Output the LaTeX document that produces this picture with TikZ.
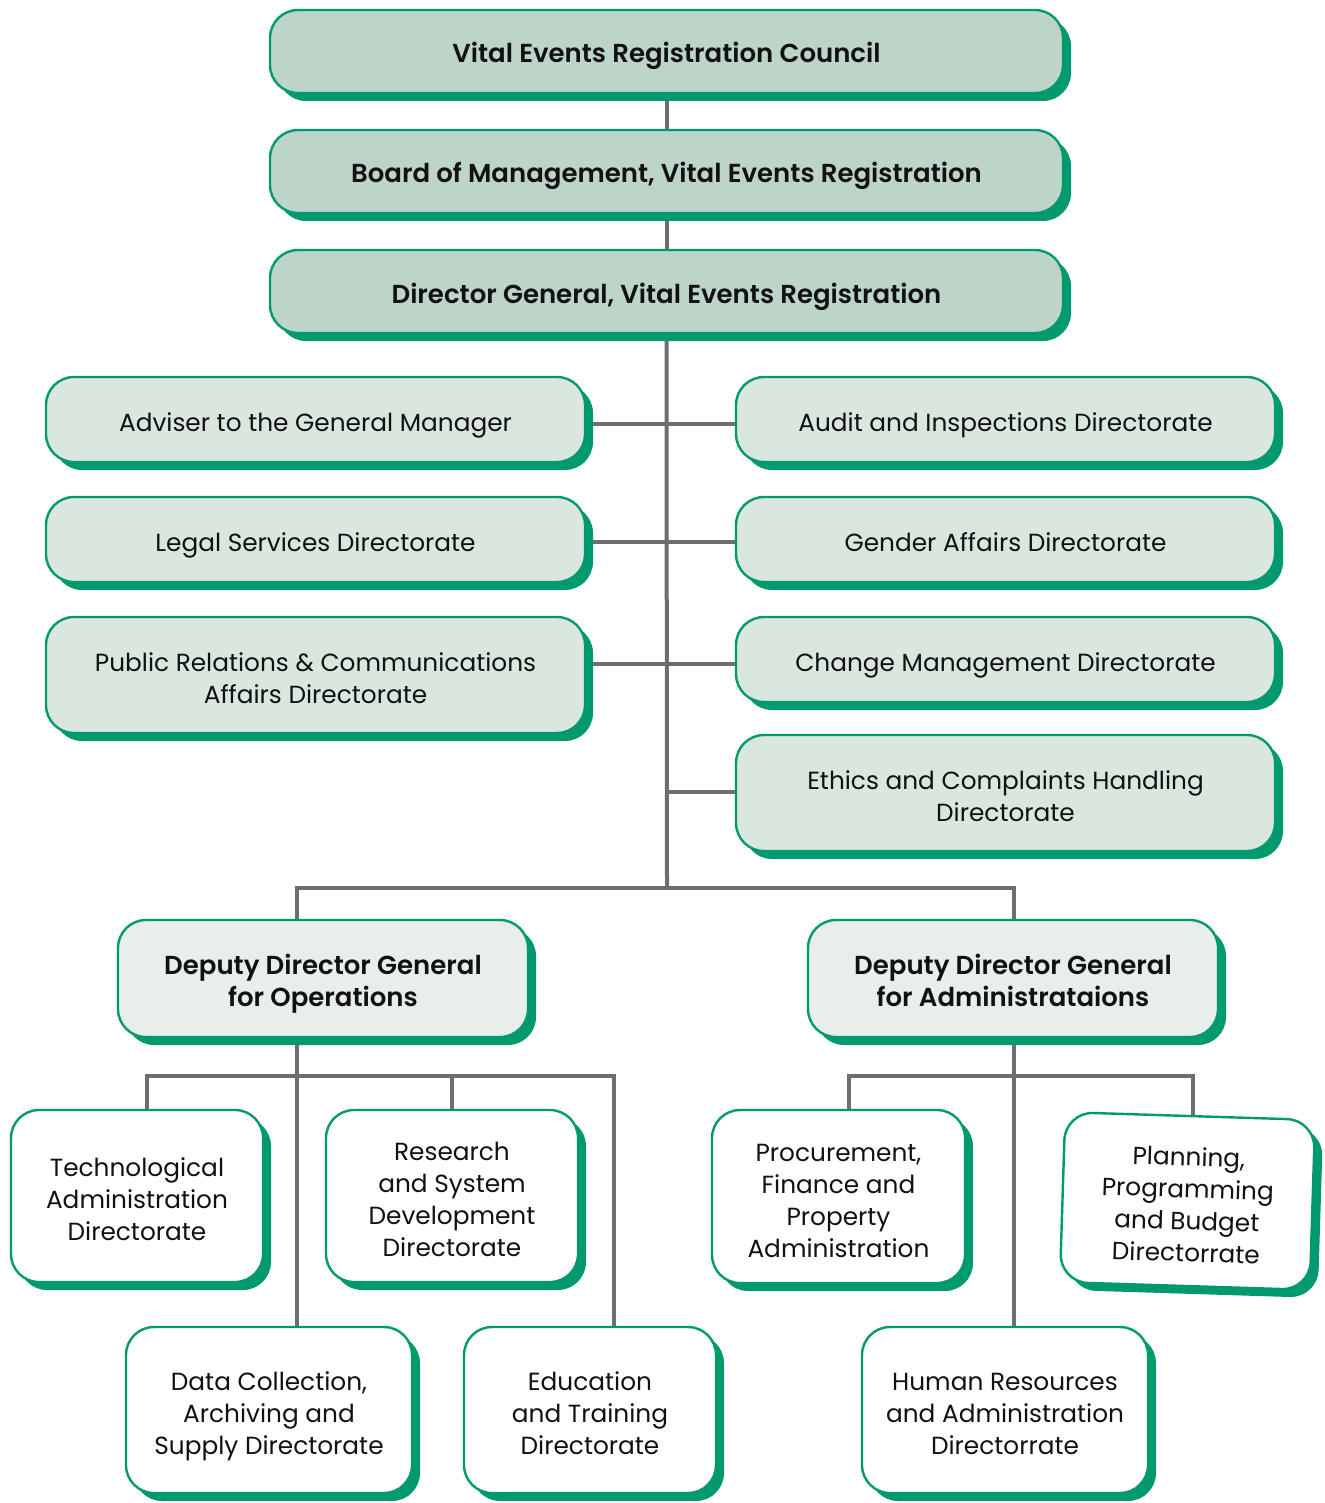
\documentclass[tikz,border=0pt]{standalone}
\usepackage{fontspec}
\setmainfont{Poppins}[BoldFont={* SemiBold}]
\usetikzlibrary{shadows,backgrounds}
\definecolor{vgreen}{HTML}{009A6E}
\definecolor{fillA}{HTML}{BCD5C8}
\definecolor{fillB}{HTML}{DAE7DF}
\definecolor{fillC}{HTML}{E8EFEB}
\definecolor{lineg}{HTML}{6D6E71}
\definecolor{txt}{HTML}{111111}
\newcommand{\topstrut}{\rule{0pt}{15.5pt}}
\newcommand{\botstrut}{\rule[-4pt]{0pt}{4pt}}
\tikzset{
  box/.style={draw=vgreen, line width=1.2pt, rounded corners=14pt, align=center, inner sep=0pt,
    text=txt, font=\fontsize{12.4}{16}\selectfont,
    execute at begin node=\topstrut, execute at end node=\botstrut,
    drop shadow={shadow xshift=4pt, shadow yshift=-4pt, fill=vgreen, opacity=1}},
  multi/.style={text depth=0pt, execute at begin node={\rule{0pt}{#1}}, execute at end node={}},
  topbox/.style={box, fill=fillA, minimum width=396.5pt, minimum height=41.5pt, font=\fontsize{13}{16}\selectfont\bfseries},
  sidebox/.style={box, fill=fillB, minimum width=269.5pt, minimum height=42.5pt},
  depbox/.style={box, multi=28pt, fill=fillC, minimum width=205pt, minimum height=58.5pt, font=\fontsize{13}{16}\selectfont\bfseries},
  leafbox/.style={box, fill=white, minimum height=86pt},
  conn/.style={draw=lineg, line width=2pt}
}
\begin{document}
\begin{tikzpicture}[x=0.5pt,y=-0.5pt]
\useasboundingbox (0,0) rectangle (1325,1503);
\node[topbox] (council) at (666.5,51.5) {Vital Events Registration Council};
\node[topbox] (board) at (666.5,171.5) {Board of Management, Vital Events Registration};
\node[topbox] (dg) at (666.5,291.5) {Director General, Vital Events Registration};

\node[sidebox] (adviser) at (315.5,419.5) {Adviser to the General Manager};
\node[sidebox] (legal) at (315.5,539.5) {Legal Services Directorate};
\node[sidebox, multi=28.8pt, minimum height=58pt] (pr) at (315.5,675) {Public Relations \& Communications\\Affairs Directorate};

\node[sidebox] (audit) at (1005.5,419.5) {Audit and Inspections Directorate};
\node[sidebox] (gender) at (1005.5,539.5) {Gender Affairs Directorate};
\node[sidebox] (change) at (1005.5,659.5) {Change Management Directorate};
\node[sidebox, multi=28.8pt, minimum height=58pt] (ethics) at (1005.5,793) {Ethics and Complaints Handling\\Directorate};

\node[depbox] (ops) at (323,978.5) {Deputy Director General\\for Operations};
\node[depbox] (adm) at (1013,978.5) {Deputy Director General\\for Administrataions};

\node[leafbox, multi=44.8pt, minimum width=126pt] (tech) at (137,1196) {Technological\\Administration\\Directorate};
\node[leafbox, multi=60.8pt, minimum width=126pt] (research) at (452,1196) {Research\\and System\\Development\\Directorate};
\node[leafbox, multi=44.8pt, minimum width=143pt, minimum height=83pt] (data) at (269,1410) {Data Collection,\\Archiving and\\Supply Directorate};
\node[leafbox, multi=44.8pt, minimum width=126pt, minimum height=83pt] (edu) at (590,1410) {Education\\and Training\\Directorate};

\node[leafbox, multi=60.8pt, minimum width=126.5pt, minimum height=86.5pt] (proc) at (838.5,1196.5) {Procurement,\\Finance and\\Property\\Administration};
\node[leafbox, multi=60.8pt, minimum width=125pt, minimum height=85pt, rotate=-1.8] (plan) at (1187.5,1201) {Planning,\\Programming\\and Budget\\Directorrate};
\node[leafbox, multi=44.8pt, minimum width=143pt, minimum height=83pt] (hr) at (1005,1410) {Human Resources\\and Administration\\Directorrate};

\coordinate (busC) at (667,888);
\coordinate (busL) at (297,888);
\coordinate (busR) at (1014,888);
\coordinate (opsL) at (147,1076);
\coordinate (opsM) at (297,1076);
\coordinate (opsR) at (614,1076);
\coordinate (admL) at (849,1076);
\coordinate (admM) at (1014,1076);
\coordinate (admR) at (1193,1076);

\begin{scope}[on background layer]
\draw[conn] (council.south) -- (board.north);
\draw[conn] (board.south) -- (dg.north);
\draw[conn] (dg.south) -- (busC);
\draw[conn] (adviser.east |- 0,424) -- (audit.west |- 0,424);
\draw[conn] (legal.east |- 0,542) -- (gender.west |- 0,542);
\draw[conn] (pr.east |- 0,664) -- (change.west |- 0,664);
\draw[conn] (busC |- 0,792) -- (ethics.west |- 0,792);
\draw[conn] (busL |- ops.north) -- (busL) -- (busR) -- (busR |- adm.north);
\draw[conn] (opsM |- ops.south) -- (opsM |- data.north);
\draw[conn] (opsL |- tech.north) -- (opsL) -- (opsR) -- (opsR |- edu.north);
\draw[conn] (research.north -| 452,0) -- (452,1076);
\draw[conn] (admM |- adm.south) -- (admM |- hr.north);
\draw[conn] (admL |- proc.north) -- (admL) -- (admR) -- (admR |- 0,1116);
\end{scope}
\end{tikzpicture}
\end{document}
